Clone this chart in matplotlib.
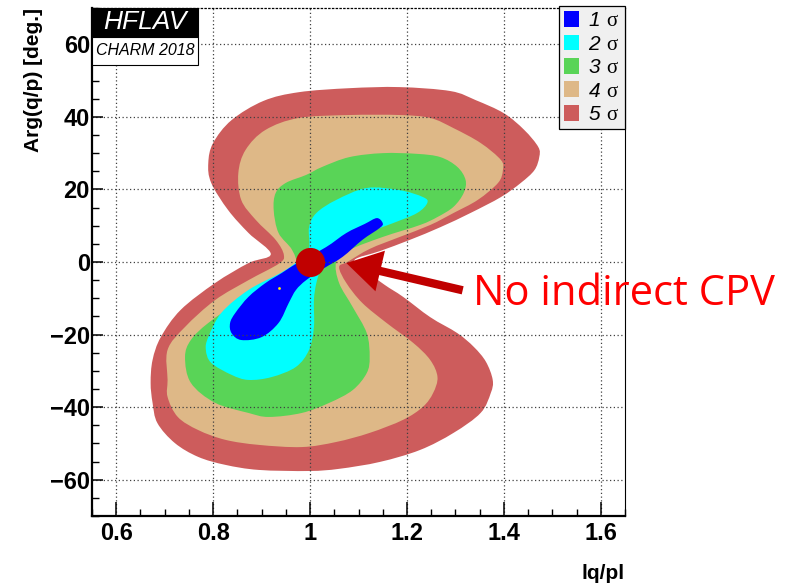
import matplotlib
matplotlib.use("Agg")
import matplotlib.pyplot as plt
import numpy as np
from matplotlib.patches import Patch, Rectangle, PathPatch
from matplotlib.path import Path
from matplotlib.ticker import MultipleLocator, FixedLocator, FixedFormatter

plt.rcParams['mathtext.fontset'] = 'custom'
plt.rcParams['mathtext.rm'] = 'Liberation Sans:italic'
plt.rcParams['mathtext.sf'] = 'Liberation Serif'
plt.rcParams['font.family'] = ['Liberation Sans', 'DejaVu Sans']

# Confidence-region outlines in (|q/p|, Arg(q/p) [deg])
sigma5_x = [0.919, 0.873, 0.831, 0.796, 0.790, 0.800, 0.838, 0.904, 0.977, 1.081, 1.185, 1.290,
            1.342, 1.400, 1.442, 1.471, 1.473, 1.463, 1.435, 1.394, 1.331, 1.269, 1.206, 1.144,
            1.092, 1.113, 1.154, 1.192, 1.248, 1.304, 1.338, 1.363, 1.377, 1.373, 1.352, 1.296,
            1.227, 1.144, 1.060, 0.998, 0.894, 0.825, 0.769, 0.721, 0.685, 0.675, 0.671, 0.675,
            0.692, 0.733, 0.804, 0.873]
sigma5_y = [2.2, 8.0, 14.3, 21.8, 27.3, 32.8, 39.1, 44.4, 46.8, 47.9, 48.2, 47.1,
            44.6, 41.0, 36.4, 31.7, 28.9, 25.3, 21.8, 17.9, 13.5, 9.6, 6.1, 3.0,
            0.6, -2.2, -6.3, -9.6, -15.2, -19.6, -23.4, -27.5, -32.5, -36.1, -41.6, -47.1,
            -51.8, -55.1, -57.0, -57.6, -57.3, -55.9, -53.7, -49.9, -44.4, -38.8, -33.3, -27.0,
            -20.7, -13.2, -5.8, -0.3]

sigma4_x = [0.946, 0.929, 0.888, 0.858, 0.852, 0.867, 0.908, 0.977, 1.081, 1.185, 1.248, 1.296,
            1.352, 1.394, 1.398, 1.388, 1.346, 1.296, 1.248, 1.185, 1.123, 1.077, 1.060, 1.075,
            1.108, 1.158, 1.213, 1.248, 1.263, 1.254, 1.233, 1.192, 1.123, 1.054, 0.983, 0.894,
            0.825, 0.769, 0.727, 0.706, 0.706, 0.706, 0.742, 0.804, 0.873, 0.935]
sigma4_y = [1.9, 6.1, 11.6, 17.1, 24.5, 30.9, 36.4, 39.7, 40.5, 40.5, 39.7, 36.9,
            32.8, 28.1, 25.3, 21.8, 17.1, 13.5, 10.2, 6.9, 3.6, 0.0, -1.4, -5.8,
            -11.3, -16.8, -22.3, -27.0, -31.7, -36.1, -39.9, -43.5, -47.1, -49.6, -51.0, -50.4,
            -49.0, -46.3, -42.7, -37.2, -32.5, -24.2, -17.9, -10.5, -5.0, -0.5]

sigma3_x = [0.963, 0.935, 0.925, 0.929, 0.950, 0.992, 1.025, 1.081, 1.150, 1.221, 1.269, 1.304,
            1.321, 1.317, 1.296, 1.263, 1.227, 1.150, 1.081, 1.054, 1.060, 1.088, 1.117, 1.123,
            1.117, 1.088, 1.040, 0.983, 0.915, 0.873, 0.804, 0.754, 0.742, 0.754, 0.790, 0.858,
            0.929, 0.971]
sigma3_y = [3.3, 8.0, 14.3, 19.0, 21.8, 24.0, 26.2, 28.9, 30.0, 29.8, 28.9, 26.2,
            22.6, 19.0, 15.2, 12.4, 10.2, 6.9, 3.3, 0.0, -5.8, -12.4, -19.6, -26.2,
            -30.6, -35.3, -38.8, -41.6, -42.7, -41.6, -38.8, -33.3, -26.2, -21.5, -16.8, -10.5,
            -5.0, -1.4]

sigma2_x = [0.998, 0.998, 1.013, 1.054, 1.117, 1.185, 1.233, 1.242, 1.221, 1.171, 1.081, 1.040,
            1.023, 1.013, 1.008, 1.008, 0.998, 0.971, 0.921, 0.873, 0.838, 0.796, 0.785, 0.790,
            0.817, 0.873, 0.942, 0.983]
sigma2_y = [4.1, 9.6, 13.5, 17.1, 20.4, 19.8, 17.9, 16.3, 13.5, 10.7, 6.1, 1.9,
            -1.7, -5.8, -10.5, -17.9, -24.2, -28.9, -31.7, -32.5, -31.1, -27.8, -24.2, -20.7,
            -14.0, -7.7, -2.8, 1.1]

sigma1_x = [1.138, 1.150, 1.144, 1.108, 1.067, 1.029, 0.992, 0.971, 0.956, 0.935, 0.900, 0.858,
            0.838, 0.835, 0.846, 0.873, 0.908, 0.942, 0.977, 1.033, 1.075, 1.113]
sigma1_y = [12.1, 10.7, 9.4, 6.1, 1.4, -1.7, -5.0, -7.7, -11.3, -16.8, -20.7, -21.5,
            -19.6, -16.8, -14.0, -9.6, -5.8, -3.0, 0.0, 4.1, 8.0, 10.5]

region_labels = ["1", "2", "3", "4", "5"]
region_colors = ["#0000ff", "#00ffff", "#59d457", "#deb887", "#cd5c5c"]

best_fit = (0.935, -7.2)
no_cpv_point = (1.0, 0.0)
arrow_tip = (1.075, -0.3)
arrow_tail = (1.315, -7.8)

x_ticks = [0.6, 0.8, 1.0, 1.2, 1.4, 1.6]
x_tick_labels = ["0.6", "0.8", "1", "1.2", "1.4", "1.6"]
y_ticks = [-60, -40, -20, 0, 20, 40, 60]
y_tick_labels = ["\u221260", "\u221240", "\u221220", "0", "20", "40", "60"]


def closed_curve(xs, ys):
    """Closed smooth outline through the given vertices (cubic Bezier segments)."""
    p = np.column_stack([xs, ys])
    n = len(p)
    verts = [p[0]]
    codes = [Path.MOVETO]
    for i in range(n):
        p0, p1, p2, p3 = p[i - 1], p[i], p[(i + 1) % n], p[(i + 2) % n]
        verts += [p1 + (p2 - p0) / 6.0, p2 - (p3 - p1) / 6.0, p2]
        codes += [Path.CURVE4] * 3
    verts.append(p[0])
    codes.append(Path.CLOSEPOLY)
    return Path(np.array(verts), codes)


fig = plt.figure(figsize=(7.87, 5.84), dpi=100)
ax = fig.add_axes([92 / 787, 1 - 516 / 584, 533 / 787, 508 / 584])
ax.set_xlim(0.55, 1.65)
ax.set_ylim(-70, 70)

outlines = [(sigma5_x, sigma5_y), (sigma4_x, sigma4_y), (sigma3_x, sigma3_y),
            (sigma2_x, sigma2_y), (sigma1_x, sigma1_y)]
for i, (xs, ys) in enumerate(outlines):
    ax.add_patch(PathPatch(closed_curve(xs, ys), facecolor=region_colors[4 - i],
                           lw=0, zorder=1 + 0.1 * i))

# grid drawn over the filled regions
ax.set_axisbelow(False)
ax.grid(True, which='major', color='0.25', linestyle=(0, (1, 2)), linewidth=0.9)

ax.xaxis.set_major_locator(FixedLocator(x_ticks))
ax.xaxis.set_major_formatter(FixedFormatter(x_tick_labels))
ax.yaxis.set_major_locator(FixedLocator(y_ticks))
ax.yaxis.set_major_formatter(FixedFormatter(y_tick_labels))
ax.xaxis.set_minor_locator(MultipleLocator(0.05))
ax.yaxis.set_minor_locator(MultipleLocator(5))

ax.tick_params(axis='x', which='major', direction='in', length=10, width=1.1, pad=4,
               labelsize=17, top=False)
ax.tick_params(axis='x', which='minor', direction='in', length=5, width=1.0, top=False)
ax.tick_params(axis='y', which='major', direction='in', length=8, width=1.1, pad=1.5,
               labelsize=17, right=False)
ax.tick_params(axis='y', which='minor', direction='in', length=5, width=1.0, right=False)
for lab in ax.get_xticklabels() + ax.get_yticklabels():
    lab.set_fontweight('bold')

for side in ('left', 'bottom'):
    ax.spines[side].set_linewidth(1.6)
ax.spines['right'].set_linewidth(0.8)
ax.spines['top'].set_linewidth(0.9)
ax.spines['top'].set_linestyle((0, (1, 2)))

ax.set_xlabel("lq/pl", fontsize=15, fontweight='bold', loc='right')
ax.xaxis.set_label_coords(1.0, -0.094)
ax.set_ylabel("Arg(q/p) [deg.]", fontsize=15, fontweight='bold', loc='top')
ax.yaxis.set_label_coords(-0.092, 1.0)

# point of no indirect CP violation, best fit and annotation arrow
ax.plot(*best_fit, marker='o', ms=2, color='#ffee00', mec='none', zorder=4)
ax.plot(*no_cpv_point, marker='o', ms=21, color='#c00000', mec='none', zorder=6)
ax.annotate("", xy=arrow_tip, xytext=arrow_tail,
            arrowprops=dict(arrowstyle="simple,head_length=1.25,head_width=1.5,tail_width=0.3",
                            color='#c00000', lw=0, mutation_scale=20,
                            shrinkA=0, shrinkB=0), zorder=6, annotation_clip=False)
fig.text(473 / 787, 1 - 305 / 584, "No indirect CPV", color='#ff0000', fontsize=30,
         family=['Open Sans', 'DejaVu Sans'], ha='left', va='baseline')

# HFLAV label box
ax.add_patch(Rectangle((0.0, 0.943), 0.199, 0.057, transform=ax.transAxes,
                       facecolor='black', edgecolor='black', lw=0.8, zorder=8, clip_on=False))
ax.add_patch(Rectangle((0.0, 0.888), 0.199, 0.055, transform=ax.transAxes,
                       facecolor='white', edgecolor='black', lw=0.8, zorder=8, clip_on=False))
ax.text(0.0995, 0.9715, "HFLAV", transform=ax.transAxes, color='white', fontsize=19,
        style='italic', ha='center', va='center', zorder=9)
ax.text(0.0995, 0.9155, "CHARM 2018", transform=ax.transAxes, color='black', fontsize=11.5,
        style='italic', ha='center', va='center', zorder=9)

handles = [Patch(facecolor=c, edgecolor='none') for c in region_colors]
labels = ["$%s\\ \\mathsf{\u03c3}$" % n for n in region_labels]
leg = ax.legend(handles, labels, loc='upper right', bbox_to_anchor=(1.0, 1.004),
                borderaxespad=0, fontsize=15, handlelength=0.7, handleheight=0.8,
                handletextpad=0.45, borderpad=0.25, labelspacing=0.2, fancybox=False,
                framealpha=1, facecolor='#f0f0f0', edgecolor='black')
leg.get_frame().set_linewidth(0.9)
leg.set_zorder(9)

fig.savefig("out.png", dpi=100)
